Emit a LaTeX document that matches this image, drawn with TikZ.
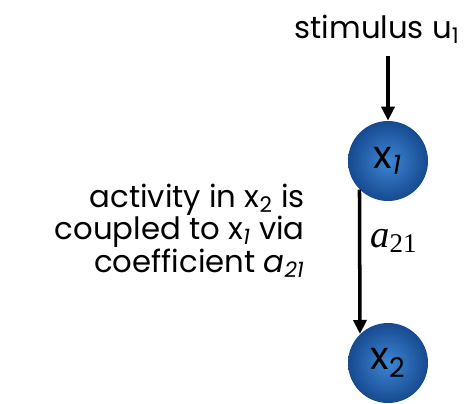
\documentclass[tikz,border=0pt]{standalone}
\usepackage{fontspec}
\setmainfont{Poppins}
\newfontfamily\timesfont{Liberation Serif}
\usetikzlibrary{arrows.meta,positioning}
\definecolor{ballin}{RGB}{62,134,212}
\definecolor{ballout}{RGB}{22,74,144}

\begin{document}
\begin{tikzpicture}[
  x=0.02cm, y=-0.02cm,
  unit/.style={
    circle,
    minimum size=1.6cm,
    inner sep=0pt,
    inner color=ballin,
    outer color=ballout,
    font=\fontsize{22}{26}\selectfont
  },
  link/.style={-{Triangle[length=0.28cm,width=0.26cm]}, line width=2pt},
  note/.style={font=\fontsize{17.5}{18.5}\selectfont, inner sep=0pt}
]
\useasboundingbox (0,0) rectangle (469,403);

\node (x1) [unit] at (388,161) {x\textsubscript{\textit{1}}};
\node (x2) [unit] at (388,363) {x\textsubscript{2}};

\node (stim) [note, anchor=base east] at (460,38) {stimulus u\textsubscript{1}};

\node (coef) [anchor=base west, inner sep=0pt] at (370,247)
{\timesfont\fontsize{22}{26}\selectfont\textit{a}\textsubscript{21}};

% base of a multi-line node is the last line
\node (text) [note, align=right, anchor=base east] at (305,272)
{activity in x\textsubscript{2} is\\
coupled to x\textsubscript{\textit{1}} via\\
coefficient \textit{a}\textsubscript{\textit{21}}};

\draw[link, shorten <=0.26cm] (stim.south -| x1) -- (x1.north);
\draw[link] (x1.225.6) -- (x2.134.4);

\end{tikzpicture}
\end{document}
